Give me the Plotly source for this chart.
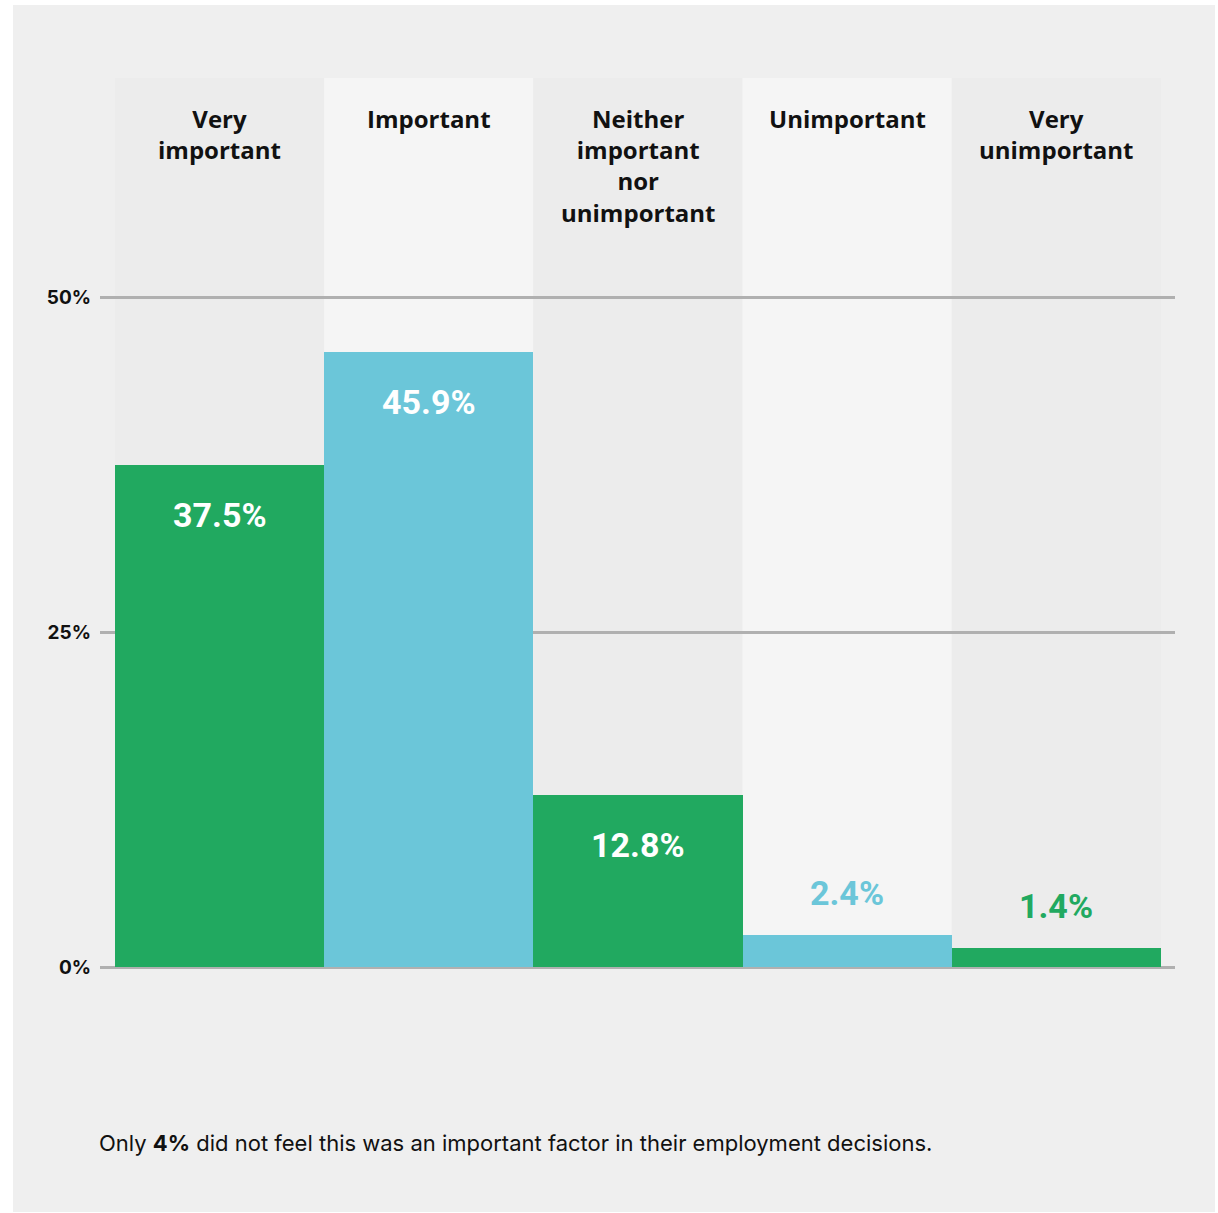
import plotly.graph_objects as go

categories = ["Very<br>important", "Important", "Neither<br>important<br>nor<br>unimportant",
              "Unimportant", "Very<br>unimportant"]
values = [37.5, 45.9, 12.8, 2.4, 1.4]
value_labels = ["37.5%", "45.9%", "12.8%", "2.4%", "1.4%"]
tick_vals = [0, 25, 50]
tick_text = ["0%", "25%", "50%"]
footnote = "Only <b>4%</b> did not feel this was an important factor in their employment decisions."

GREEN = "#21a960"
BLUE = "#6bc6d9"
bar_colors = [GREEN, BLUE, GREEN, BLUE, GREEN]
col_bg = ["#ececec", "#f5f5f5", "#ececec", "#f5f5f5", "#ececec"]
FONT = "Inter, Roboto, 'Liberation Sans', sans-serif"
CAT_FONT = "'Open Sans', Inter, sans-serif"
VAL_FONT = "Roboto, Inter, sans-serif"

W, H = 1218, 1213
L, R, T, B = 100, 1175, 78, 967
pw, ph = R - L, B - T
YMAX = 50 * ph / (B - 297)

x_idx = list(range(len(categories)))
fig = go.Figure(go.Bar(x=x_idx, y=values, marker=dict(color=bar_colors, line=dict(width=0)),
                       width=1, hoverinfo="skip"))

shapes = []
def px_x(p):
    return (p - L) / pw
def px_y(p):
    return (B - p) / ph
shapes.append(dict(type="rect", xref="paper", yref="paper", x0=px_x(13), x1=px_x(1215),
                   y0=px_y(1212), y1=px_y(5), fillcolor="#efefef", line=dict(width=0), layer="below"))
for i, c in enumerate(col_bg):
    shapes.append(dict(type="rect", xref="x", yref="paper", x0=i - 0.5, x1=i + 0.5, y0=0, y1=1,
                       fillcolor=c, line=dict(width=0), layer="below"))

annotations = []
for i, cat in enumerate(categories):
    annotations.append(dict(x=i, y=1, xref="x", yref="paper", text=cat, showarrow=False,
                            yanchor="top", yshift=-22,
                            font=dict(family=CAT_FONT, size=24, color="#111111", weight="bold")))
for i, (v, lab) in enumerate(zip(values, value_labels)):
    inside = v > 5
    annotations.append(dict(x=i, y=v, xref="x", yref="y", text=lab, showarrow=False,
                            yanchor="middle", yshift=-50 if inside else 42,
                            font=dict(family=VAL_FONT, size=34, weight="bold",
                                      color="white" if inside else bar_colors[i])))
annotations.append(dict(x=px_x(97), y=px_y(1143), xref="paper", yref="paper", text=footnote,
                        showarrow=False, xanchor="left", yanchor="middle",
                        font=dict(family=FONT, size=22, color="#111111")))

x_margin_l = (115 - L) / 209.2
x_margin_r = (R - 1161) / 209.2
fig.update_layout(
    width=W, height=H,
    margin=dict(l=L, r=W - R, t=T, b=H - B, pad=0),
    paper_bgcolor="white", plot_bgcolor="#efefef",
    bargap=0, showlegend=False, hovermode=False,
    shapes=shapes, annotations=annotations,
    xaxis=dict(range=[-0.5 - x_margin_l, 4.5 + x_margin_r], showticklabels=False,
               showgrid=False, zeroline=False, showline=False, ticks="", fixedrange=True),
    yaxis=dict(range=[0, YMAX], tickvals=tick_vals, ticktext=tick_text,
               showgrid=True, gridcolor="#b0b0b0", gridwidth=3,
               zeroline=True, zerolinecolor="#b0b0b0", zerolinewidth=3,
               showline=False, ticks="", ticklabelstandoff=8,
               tickfont=dict(family=FONT, size=19, color="#111111", weight="bold"),
               fixedrange=True),
)

fig.write_html("out.html", config={"displayModeBar": False},
               post_script="document.body.style.margin='0';")
